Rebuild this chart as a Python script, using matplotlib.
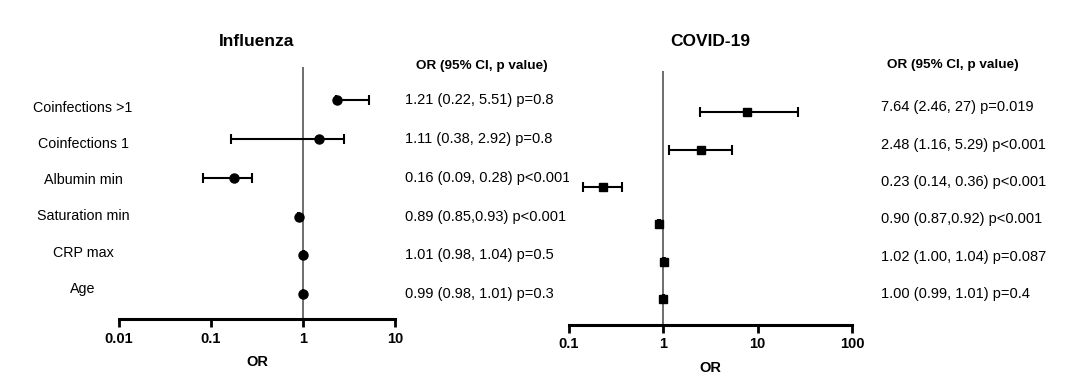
import matplotlib.pyplot as plt
import numpy as np

plt.rcParams['font.family'] = ['Liberation Sans', 'DejaVu Sans']

variables = ['Coinfections >1', 'Coinfections 1', 'Albumin min',
             'Saturation min', 'CRP max', 'Age']

# Influenza (values as drawn)
flu_or = [2.34, 1.49, 0.178, 0.90, 1.01, 1.00]
flu_lo = [2.3, 0.165, 0.082, 0.89, 1.00, 0.99]
flu_hi = [5.2, 2.79, 0.279, 0.91, 1.02, 1.01]
flu_txt = ['1.21 (0.22, 5.51) p=0.8', '1.11 (0.38, 2.92) p=0.8',
           '0.16 (0.09, 0.28) p<0.001', '0.89 (0.85,0.93) p<0.001',
           '1.01 (0.98, 1.04) p=0.5', '0.99 (0.98, 1.01) p=0.3']

# COVID-19
cov_or = [7.64, 2.48, 0.23, 0.90, 1.02, 1.00]
cov_lo = [2.46, 1.16, 0.14, 0.87, 1.00, 0.99]
cov_hi = [27, 5.29, 0.36, 0.92, 1.04, 1.01]
cov_txt = ['7.64 (2.46, 27) p=0.019', '2.48 (1.16, 5.29) p<0.001',
           '0.23 (0.14, 0.36) p<0.001', '0.90 (0.87,0.92) p<0.001',
           '1.02 (1.00, 1.04) p=0.087', '1.00 (0.99, 1.01) p=0.4']

fig = plt.figure(figsize=(10.8, 3.9), dpi=100)
ax1 = fig.add_axes([0.1102, 0.182, 0.2556, 0.646])
ax2 = fig.add_axes([0.5269, 0.1667, 0.262, 0.651])


def forest(ax, orv, lo, hi, marker, ms, xlim, ticks, ticklabels, ylim):
    rows = np.arange(len(orv))
    orv = np.array(orv)
    err = [orv - np.array(lo), np.array(hi) - orv]
    ax.axvline(1, color='#555555', lw=1.2, zorder=1)
    ax.errorbar(orv, rows, xerr=err, fmt=marker, color='black', ms=ms,
                elinewidth=1.5, capsize=3.5, capthick=1.5, zorder=3)
    ax.set_xscale('log')
    ax.set_xlim(*xlim)
    ax.set_ylim(*ylim)
    ax.set_xticks(ticks)
    ax.set_xticklabels(ticklabels, fontweight='bold', fontsize=10.5)
    ax.minorticks_off()
    ax.tick_params(axis='x', length=6, width=2, pad=3)
    ax.set_yticks([])
    for s in ['top', 'right', 'left']:
        ax.spines[s].set_visible(False)
    ax.spines['bottom'].set_linewidth(2.2)
    ax.set_xlabel('OR', fontweight='bold', fontsize=10.5, labelpad=7)
    return rows


rows = forest(ax1, flu_or, flu_lo, flu_hi, 'o', 6.5, (0.01, 10),
              [0.01, 0.1, 1, 10], ['0.01', '0.1', '1', '10'], (5.64, -0.85))
forest(ax2, cov_or, cov_lo, cov_hi, 's', 6.2, (0.1, 100),
       [0.1, 1, 10, 100], ['0.1', '1', '10', '100'], (5.7, -1.1))

# left labels (centered)
for i, lab in enumerate(variables):
    ax1.text(-0.13, 2.53 + (i - 2.5) * 0.933, lab, transform=ax1.get_yaxis_transform(),
             ha='center', va='center', fontsize=10.3)

# titles
fig.text(257 / 1080, 1 - 42 / 390, 'Influenza', ha='center', va='center',
         fontweight='bold', fontsize=12.5)
fig.text(710 / 1080, 1 - 42 / 390, 'COVID-19', ha='center', va='center',
         fontweight='bold', fontsize=12.5)

# OR text columns
ax1.text(1.076, -0.876, 'OR (95% CI, p value)', transform=ax1.get_yaxis_transform(),
         ha='left', va='center', fontweight='bold', fontsize=9.7, clip_on=False)
for i, t in enumerate(flu_txt):
    ax1.text(1.036, rows[i], t, transform=ax1.get_yaxis_transform(),
             ha='left', va='center', fontsize=10.5, clip_on=False)

ax2.text(1.124, -1.26, 'OR (95% CI, p value)', transform=ax2.get_yaxis_transform(),
         ha='left', va='center', fontweight='bold', fontsize=9.7, clip_on=False)
for i, t in enumerate(cov_txt):
    ax2.text(1.102, rows[i] - 0.13, t, transform=ax2.get_yaxis_transform(),
             ha='left', va='center', fontsize=10.5, clip_on=False)

fig.savefig('out.png', dpi=100)
